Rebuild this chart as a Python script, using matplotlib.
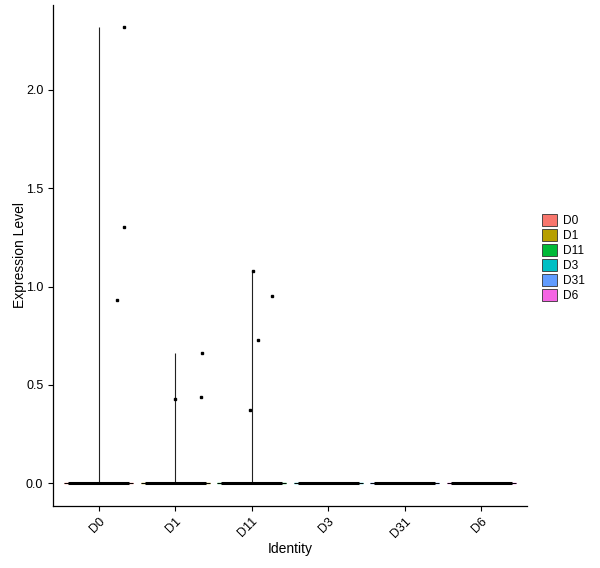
import matplotlib
matplotlib.use("Agg")
import matplotlib.pyplot as plt
from matplotlib.patches import Patch

plt.rcParams['font.family'] = ['Liberation Sans', 'DejaVu Sans']

categories = ['D0', 'D1', 'D11', 'D3', 'D31', 'D6']
colors = ['#F8766D', '#B79F00', '#00BA38', '#00BFC4', '#619CFF', '#F564E3']
max_values = [2.32, 0.66, 1.08, 0.0, 0.0, 0.0]

# non-zero cells: (group index, jitter offset, value)
pt_group = [0, 0, 0, 1, 1, 1, 2, 2, 2, 2]
pt_offset = [0.24, 0.33, 0.33, 0.0, 0.34, 0.35, -0.02, 0.08, 0.26, 0.02]
pt_value = [0.934, 1.305, 2.32, 0.426, 0.44, 0.66, 0.37, 0.726, 0.954, 1.081]

yticks = [0.0, 0.5, 1.0, 1.5, 2.0]

fig = plt.figure(figsize=(6.0, 5.68), dpi=100)
ax = fig.add_axes([53/600, 1 - 506/568, (527-53)/600, (506-5)/568])

xs = list(range(1, len(categories) + 1))
violin_half = 0.45
jitter_half = 0.4

for x, m, c in zip(xs, max_values, colors):
    # violin outline: flat at zero, thin spike up to max
    ax.fill_between([x - violin_half, x + violin_half], [0, 0], [0, 0], color=c)
    ax.hlines(0, x - violin_half, x + violin_half, color='black', lw=0.7, zorder=2)
    if m > 0:
        ax.vlines(x, 0, m, color='#222222', lw=0.8, zorder=2)
    # many zero-valued cells jittered along the baseline
    ax.hlines(0, x - jitter_half, x + jitter_half, color='black', lw=2.2, zorder=3)

px = [xs[g] + o for g, o in zip(pt_group, pt_offset)]
ax.plot(px, pt_value, linestyle='none', marker='s', ms=1.6, color='black', zorder=4)

ax.set_xlim(0.4, 6.6)
ax.set_ylim(-0.116, 2.432)
ax.set_xticks(xs)
ax.set_xticklabels(categories, rotation=45, ha='right', va='top', rotation_mode='anchor', fontsize=9)
ax.set_yticks(yticks)
ax.set_yticklabels([f'{v:.1f}' for v in yticks], fontsize=9)
for s in ['top', 'right']:
    ax.spines[s].set_visible(False)
for s in ['left', 'bottom']:
    ax.spines[s].set_linewidth(0.9)
ax.tick_params(axis='both', direction='out', length=3.5, width=0.8, colors='black')
ax.tick_params(axis='x', pad=3)
ax.set_xlabel('Identity', fontsize=10, labelpad=2)
ax.set_ylabel('Expression Level', fontsize=10, labelpad=-0.5)

handles = [Patch(facecolor=c, edgecolor='#333333', lw=0.6, label=l) for c, l in zip(colors, categories)]
fig.legend(handles=handles, loc='center left', bbox_to_anchor=(542/600, 1 - 258/568),
           frameon=False, fontsize=8.6, handlelength=1.25, handleheight=1.15,
           labelspacing=0.16, handletextpad=0.5, borderaxespad=0, borderpad=0)

fig.savefig('out.png', dpi=100)
